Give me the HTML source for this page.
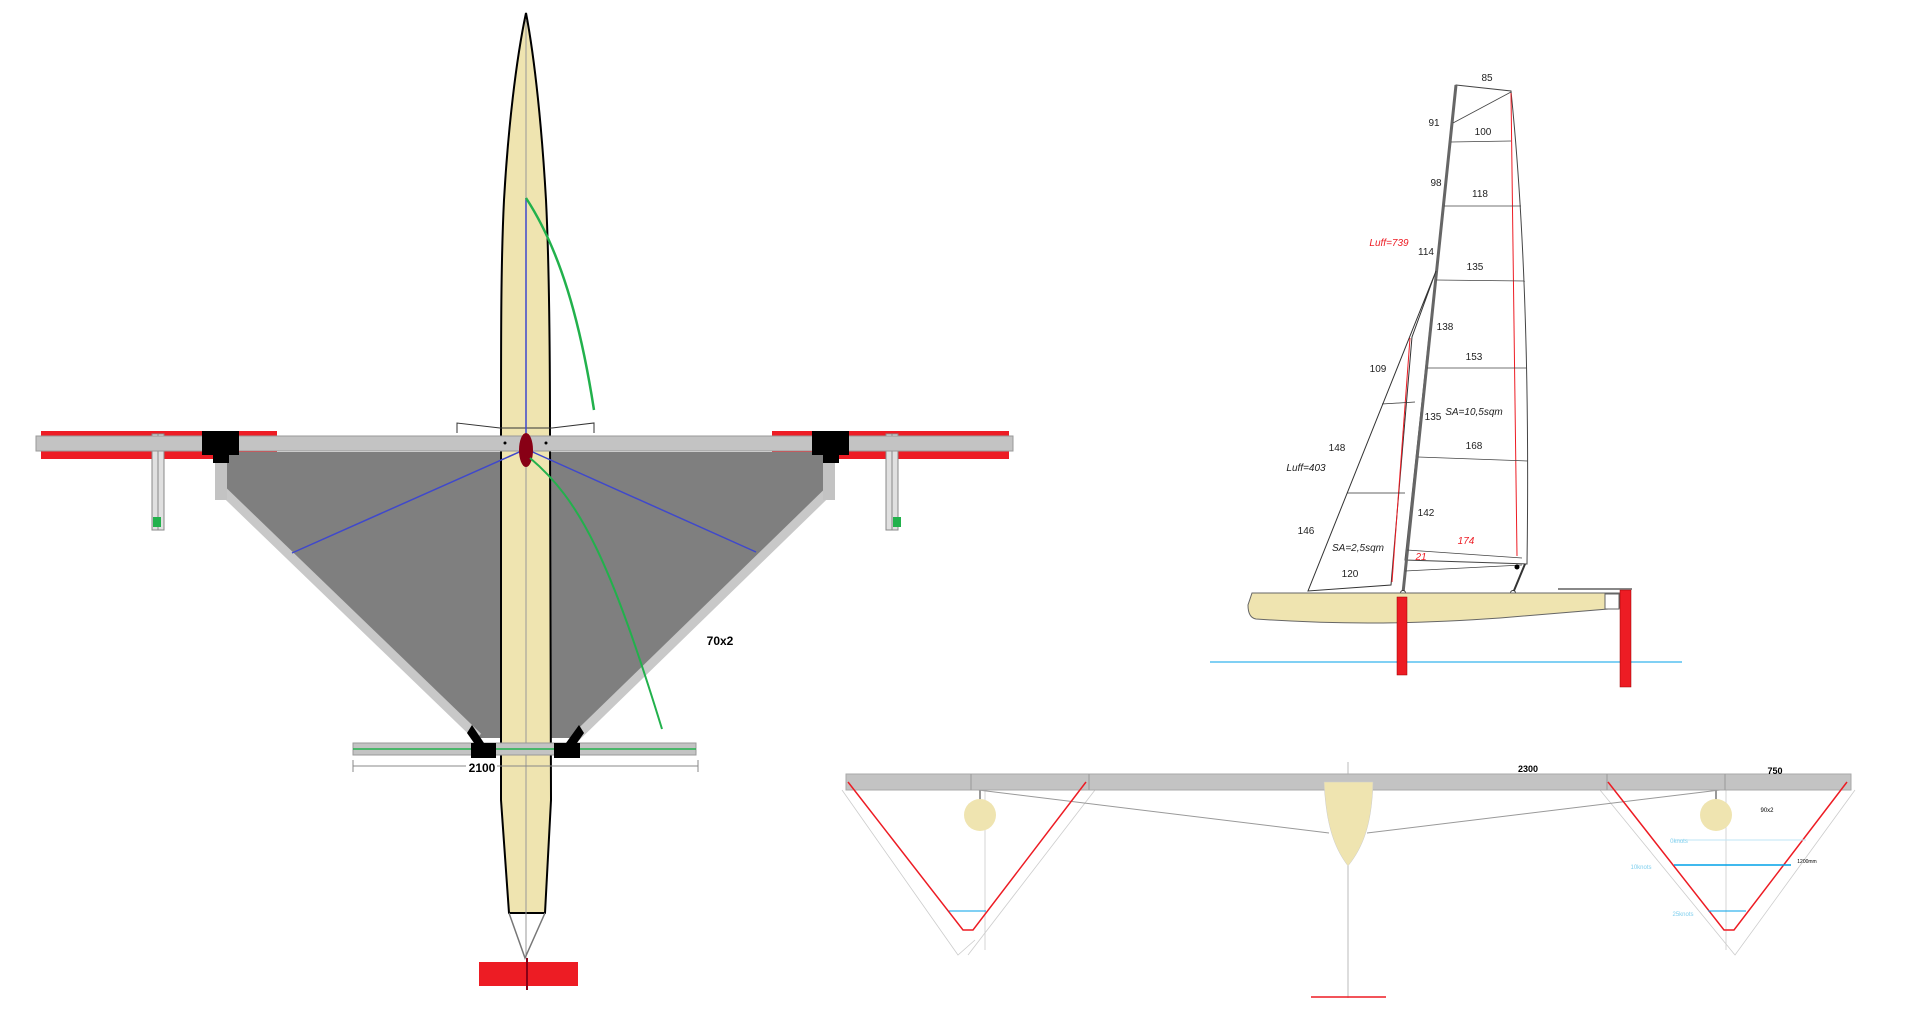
<!DOCTYPE html>
<html><head><meta charset="utf-8"><style>
html,body{margin:0;padding:0;background:#fff;}
svg{display:block;font-family:"Liberation Sans",sans-serif;}
</style></head><body>
<svg width="1920" height="1016" viewBox="0 0 1920 1016" xmlns="http://www.w3.org/2000/svg">
<!-- ===== TOP VIEW ===== -->
<rect x="41" y="431" width="236" height="28" fill="#ed1c24"/>
<rect x="772" y="431" width="237" height="28" fill="#ed1c24"/>
<polygon points="222,452 830,452 832,492 580,738 474,738 220,492" fill="#7f7f7f"/>
<line x1="222" y1="490" x2="478" y2="737" stroke="#c8c8c8" stroke-width="9"/>
<line x1="830" y1="490" x2="576" y2="737" stroke="#c8c8c8" stroke-width="9"/>
<rect x="215" y="462" width="12" height="38" fill="#c3c3c3"/>
<rect x="823" y="462" width="12" height="38" fill="#c3c3c3"/>
<rect x="152" y="434" width="12" height="96" fill="#e0e0e0" stroke="#888" stroke-width="1"/>
<line x1="158" y1="434" x2="158" y2="530" stroke="#888" stroke-width="1"/>
<rect x="153" y="517" width="8" height="10" fill="#22b14c"/>
<rect x="886" y="434" width="12" height="96" fill="#e0e0e0" stroke="#888" stroke-width="1"/>
<line x1="892" y1="434" x2="892" y2="530" stroke="#888" stroke-width="1"/>
<rect x="893" y="517" width="8" height="10" fill="#22b14c"/>
<path d="M526,13 C516,60 508,130 504,200 C501,260 501,330 501,436 L501,800 L509,913 L545,913 L551,800 L550,436 C550,330 549,260 546,200 C542,130 535,60 526,13 Z" fill="#efe4b0" stroke="#000" stroke-width="2"/>
<line x1="526" y1="20" x2="526" y2="958" stroke="#999" stroke-width="1"/>
<polyline points="457,433 457,423 500,428 552,428 594,423 594,433" fill="none" stroke="#333" stroke-width="1"/>
<rect x="36" y="436" width="977" height="15" fill="#c3c3c3" stroke="#999" stroke-width="1"/>
<rect x="202" y="431" width="37" height="24" fill="#000"/>
<rect x="213" y="455" width="16" height="8" fill="#000"/>
<rect x="812" y="431" width="37" height="24" fill="#000"/>
<rect x="823" y="455" width="16" height="8" fill="#000"/>
<circle cx="505" cy="443" r="1.5" fill="#000"/><circle cx="546" cy="443" r="1.5" fill="#000"/>
<line x1="526" y1="198" x2="526" y2="449" stroke="#3f48cc" stroke-width="1.5"/>
<line x1="526" y1="449" x2="292" y2="553" stroke="#3f48cc" stroke-width="1.5"/>
<line x1="526" y1="449" x2="756" y2="552" stroke="#3f48cc" stroke-width="1.5"/>
<ellipse cx="526" cy="450" rx="7" ry="17" fill="#880015"/>
<path d="M526,198 C560,250 580,320 594,410" fill="none" stroke="#22b14c" stroke-width="2.5"/>
<path d="M530,458 C580,500 610,560 662,729" fill="none" stroke="#22b14c" stroke-width="2"/>
<rect x="353" y="743" width="343" height="12" fill="#c3c3c3" stroke="#999" stroke-width="1"/>
<line x1="353" y1="749" x2="696" y2="749" stroke="#22b14c" stroke-width="1.5"/>
<rect x="471" y="743" width="25" height="15" fill="#000"/>
<polygon points="474,743 467,733 472,725 484,743" fill="#000"/>
<rect x="554" y="743" width="26" height="15" fill="#000"/>
<polygon points="566,743 579,725 584,733 577,743" fill="#000"/>
<line x1="353" y1="766" x2="466" y2="766" stroke="#888" stroke-width="1"/>
<line x1="497" y1="766" x2="698" y2="766" stroke="#888" stroke-width="1"/>
<line x1="353" y1="760" x2="353" y2="772" stroke="#888"/><line x1="698" y1="760" x2="698" y2="772" stroke="#888"/>
<text x="482" y="772" font-size="12" font-weight="bold" text-anchor="middle">2100</text>
<text x="720" y="645" font-size="12" font-weight="bold" text-anchor="middle">70x2</text>
<polyline points="509,913 525,958 545,913" fill="none" stroke="#777" stroke-width="1.5"/>
<rect x="479" y="962" width="99" height="24" fill="#ed1c24"/>
<line x1="527" y1="958" x2="527" y2="990" stroke="#880015" stroke-width="2"/>

<!-- ===== SIDE VIEW ===== -->
<line x1="1210" y1="662" x2="1682" y2="662" stroke="#00a2e8" stroke-width="1"/>
<path d="M1456,85 L1511,91 C1522,200 1530,350 1527,564 L1405,560 Z" fill="#fff" stroke="#444" stroke-width="1"/>
<line x1="1456" y1="85" x2="1403" y2="593" stroke="#666" stroke-width="3"/>
<line x1="1511" y1="93" x2="1517" y2="556" stroke="#ed1c24" stroke-width="1"/>
<line x1="1453" y1="123" x2="1511" y2="92" stroke="#444" stroke-width="0.8"/>
<g stroke="#444" stroke-width="0.8">
<line x1="1451" y1="142" x2="1511" y2="141"/>
<line x1="1444" y1="206" x2="1521" y2="206"/>
<line x1="1436" y1="280" x2="1525" y2="281"/>
<line x1="1427" y1="368" x2="1527" y2="368"/>
<line x1="1418" y1="457" x2="1528" y2="461"/>
<line x1="1407" y1="550" x2="1522" y2="558"/>
<line x1="1405" y1="571" x2="1522" y2="565"/>
</g>
<path d="M1436,271 L1308,591 L1391,585 L1412,337 Z" fill="#fff" stroke="#333" stroke-width="1"/>
<line x1="1410" y1="338" x2="1392" y2="582" stroke="#ed1c24" stroke-width="1"/>
<line x1="1382" y1="404" x2="1415" y2="402" stroke="#333" stroke-width="0.8"/>
<line x1="1347" y1="493" x2="1405" y2="493" stroke="#333" stroke-width="0.8"/>
<line x1="1525" y1="564" x2="1513" y2="593" stroke="#333" stroke-width="2"/>
<circle cx="1517" cy="567" r="2.5" fill="#000"/><circle cx="1513" cy="593" r="2.5" fill="#fff" stroke="#333"/>
<circle cx="1403" cy="593" r="2.5" fill="#fff" stroke="#333"/>
<path d="M1252,593 L1620,593 L1620,608 L1500,618 C1400,625 1330,624 1256,619 C1250,618 1248,612 1248,605 Z" fill="#efe4b0" stroke="#666" stroke-width="1"/>
<rect x="1605" y="594" width="14" height="15" fill="#fff" stroke="#666" stroke-width="1"/>
<line x1="1558" y1="589" x2="1632" y2="589" stroke="#888" stroke-width="2"/>
<rect x="1397" y="597" width="10" height="78" fill="#ed1c24" stroke="#900" stroke-width="0.5"/>
<rect x="1620" y="590" width="11" height="97" fill="#ed1c24" stroke="#900" stroke-width="0.5"/>
<g font-size="10" fill="#222" text-anchor="middle">
<text x="1487" y="81">85</text><text x="1434" y="126">91</text><text x="1483" y="135">100</text>
<text x="1436" y="186">98</text><text x="1480" y="197">118</text>
<text x="1389" y="246" fill="#ed1c24" font-style="italic">Luff=739</text>
<text x="1426" y="255">114</text><text x="1475" y="270">135</text>
<text x="1445" y="330">138</text><text x="1474" y="360">153</text><text x="1378" y="372">109</text>
<text x="1474" y="415" font-style="italic">SA=10,5sqm</text><text x="1433" y="420">135</text>
<text x="1337" y="451">148</text><text x="1474" y="449">168</text><text x="1306" y="471" font-style="italic">Luff=403</text>
<text x="1426" y="516">142</text><text x="1306" y="534">146</text>
<text x="1466" y="544" fill="#ed1c24" font-style="italic">174</text>
<text x="1358" y="551" font-style="italic">SA=2,5sqm</text><text x="1421" y="560" fill="#ed1c24" font-style="italic">21</text>
<text x="1350" y="577">120</text>
</g>

<!-- ===== FRONT VIEW ===== -->
<line x1="1348" y1="762" x2="1348" y2="998" stroke="#bbb" stroke-width="1"/>
<line x1="1311" y1="997" x2="1386" y2="997" stroke="#ed1c24" stroke-width="1.5"/>
<g stroke="#ccc" stroke-width="0.8" fill="none">
<polyline points="842,790 958,955 975,940"/><polyline points="1095,790 968,955"/>
<polyline points="1600,790 1735,955 1855,790"/>
<line x1="985" y1="790" x2="985" y2="950"/><line x1="1726" y1="790" x2="1726" y2="950"/>
</g>
<line x1="978" y1="790" x2="1329" y2="833" stroke="#999" stroke-width="1"/>
<line x1="1720" y1="790" x2="1367" y2="833" stroke="#999" stroke-width="1"/>
<rect x="846" y="774" width="1005" height="16" fill="#c3c3c3" stroke="#aaa" stroke-width="1"/>
<g stroke="#999" stroke-width="1"><line x1="971" y1="774" x2="971" y2="790"/><line x1="1089" y1="774" x2="1089" y2="790"/><line x1="1607" y1="774" x2="1607" y2="790"/><line x1="1725" y1="774" x2="1725" y2="790"/></g>
<path d="M1324,782 L1373,782 C1372,820 1365,845 1348,866 C1332,845 1326,820 1324,782 Z" fill="#efe4b0" stroke="#ccc" stroke-width="0.5"/>
<line x1="980" y1="790" x2="980" y2="800" stroke="#999" stroke-width="2"/>
<line x1="1716" y1="790" x2="1716" y2="800" stroke="#999" stroke-width="2"/>
<ellipse cx="980" cy="815" rx="16" ry="16" fill="#efe4b0"/>
<ellipse cx="1716" cy="815" rx="16" ry="16" fill="#efe4b0"/>
<polyline points="848,782 963,930 973,930 1086,782" fill="none" stroke="#ed1c24" stroke-width="1.5"/>
<polyline points="1608,782 1724,930 1734,930 1847,782" fill="none" stroke="#ed1c24" stroke-width="1.5"/>
<line x1="949" y1="911" x2="986" y2="911" stroke="#00a2e8" stroke-width="1"/>
<line x1="1674" y1="840" x2="1806" y2="840" stroke="#bfe6f5" stroke-width="1"/>
<line x1="1674" y1="865" x2="1791" y2="865" stroke="#00a2e8" stroke-width="1.5"/>
<line x1="1708" y1="911" x2="1746" y2="911" stroke="#00a2e8" stroke-width="1"/>
<text x="1528" y="772" font-size="9" font-weight="bold" text-anchor="middle">2300</text>
<text x="1775" y="774" font-size="9" font-weight="bold" text-anchor="middle">750</text>
<text x="1767" y="812" font-size="6" text-anchor="middle">90x2</text>
<text x="1807" y="863" font-size="5" text-anchor="middle">1200mm</text>
<g font-size="6" fill="#7fcfee" text-anchor="middle">
<text x="1679" y="843">0knots</text><text x="1641" y="869">10knots</text><text x="1683" y="916">25knots</text>
</g>
</svg>
</body></html>
